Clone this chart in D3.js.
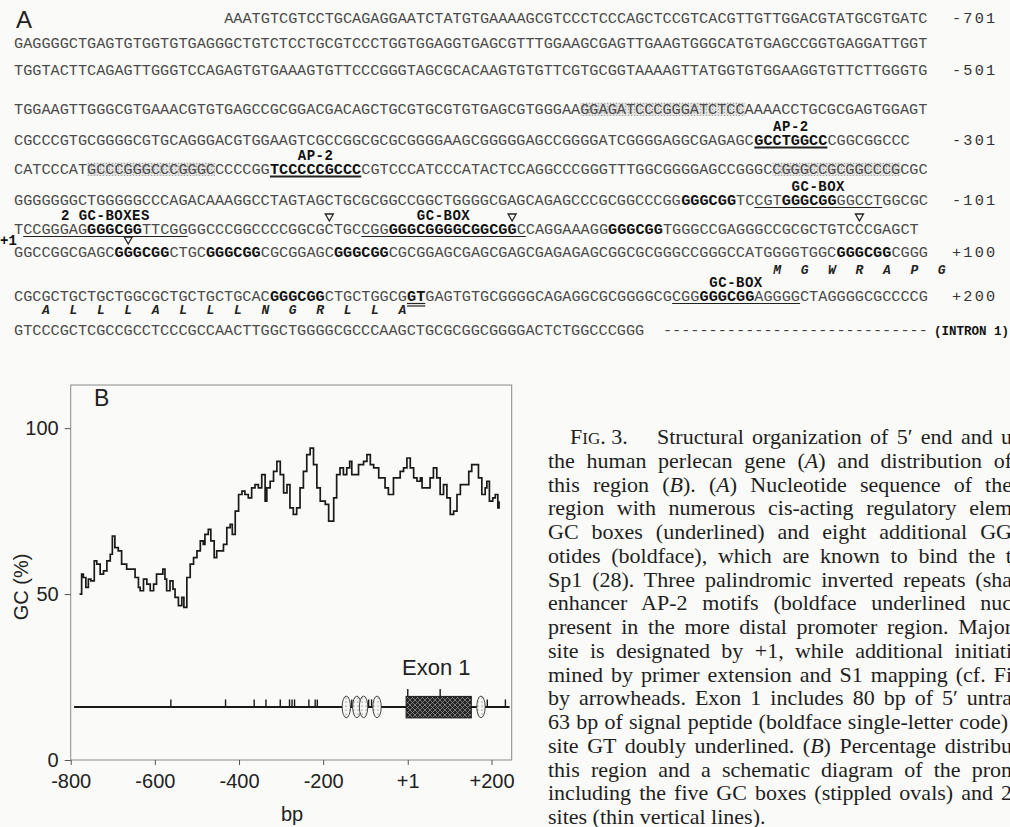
<!DOCTYPE html>
<html>
<head>
<meta charset="utf-8">
<script src="https://cdn.jsdelivr.net/npm/d3@7"></script>
<style>
  body { margin: 0; background: #fafaf8; }
  svg { display: block; }
</style>
</head>
<body>
<script>
let w = 1010;
let h = 827;

// panel A sequence. markup: * bold, _ underline, = double underline, # shaded repeat
let seqLines = [
  'AAATGTCGTCCTGCAGAGGAATCTATGTGAAAAGCGTCCCTCCCAGCTCCGTCACGTTGTTGGACGTATGCGTGATC',
  'GAGGGGCTGAGTGTGGTGTGAGGGCTGTCTCCTGCGTCCCTGGTGGAGGTGAGCGTTTGGAAGCGAGTTGAAGTGGGCATGTGAGCCGGTGAGGATTGGT',
  'TGGTACTTCAGAGTTGGGTCCAGAGTGTGAAAGTGTTCCCGGGTAGCGCACAAGTGTGTTCGTGCGGTAAAAGTTATGGTGTGGAAGGTGTTCTTGGGTG',
  'TGGAAGTTGGGCGTGAAACGTGTGAGCCGCGGACGACAGCTGCGTGCGTGTGAGCGTGGGAA#GGAGATCCCGGGATCTCC#AAAACCTGCGCGAGTGGAGT',
  'CGCCCGTGCGGGGCGTGCAGGGACGTGGAAGTCGCCGGCGCGCGGGGAAGCGGGGGAGCCGGGGATCGGGGAGGCGAGAGC_*GCCTGGCC*_CGGCGGCCC',
  'CATCCCAT#GCCCGGGCCCGGGC#CCCCGG_*TCCCCCGCCC*_CGTCCCATCCCATACTCCAGGCCCGGGTTTGGCGGGGAGCCGGGC#CGGGCCGCGGCCCG#CGC',
  'GGGGGGGCTGGGGGCCCAGACAAAGGCCTAGTAGCTGCGCGGCCGGCTGGGGCGAGCAGAGCCCGCGGCCCGG*GGGCGG*TC_CGT*GGGCGG*GGCCT_GGCGC',
  'T_CCGGGAG*GGGCGG*TTCGG_GGCCCGGCCCCGGCGCTGC_CGG*GGGCGGGGCGGCGG*C_CAGGAAAGG*GGGCGG*TGGGCCGAGGGCCGCGCTGTCCCGAGCT',
  'GGCCGGCGAGC*GGGCGG*CTGC*GGGCGG*CGCGGAGC*GGGCGG*CGCGGAGCGAGCGAGCGAGAGAGCGGCGCGGGCCGGGCCATGGGGTGGC*GGGCGG*CGGG',
  'CGCGCTGCTGCTGGCGCTGCTGCTGCAC*GGGCGG*CTGCTGGCG=*GT*=GAGTGTGCGGGGCAGAGGCGCGGGGCG_CGG*GGGCGG*AGGGG_CTAGGGGCGCCCCG',
  'GTCCCGCTCGCCGCCTCCCGCCAACTTGGCTGGGGCGCCCAAGCTGCGCGGCGGGGACTCTGGCCCGGG'
];
let seqNumbers = ['-701', '', '-501', '', '-301', '', '-101', '', '+100', '+200', ''];
// [line, underline span on that line, label]
let motifLabels = [[4, 0, 'AP-2'], [5, 0, 'AP-2'], [6, 0, 'GC-BOX'], [7, 0, '2 GC-BOXES'], [7, 1, 'GC-BOX'], [9, 0, 'GC-BOX']];
// [line below arrow, base position in line]
let startSites = [[7, 34], [7, 54], [7, 92], [8, 12]];
// [line above, first base, residues]
let peptide = [[8, 83, 'MGWRAPG'], [9, 3, 'ALLLALLLNGRLLA']];

// panel B: GC distribution
let gcPos = [-779, -774, -770, -764, -758, -752, -744, -738, -730, -722,
  -714, -706, -701, -695, -687, -679, -667, -655, -647, -639,
  -635, -627, -619, -611, -603, -596, -588, -581, -576, -572,
  -564, -557, -552, -544, -536, -531, -524, -516, -508, -500,
  -492, -485, -481, -473, -467, -459, -453, -445, -437, -429,
  -421, -416, -409, -401, -393, -386, -378, -370, -362, -354,
  -346, -338, -334, -326, -318, -310, -302, -294, -286, -279,
  -271, -263, -255, -247, -239, -231, -223, -215, -207, -195,
  -187, -181, -175, -168, -160, -152, -144, -137, -132, -124,
  -116, -104, -96, -88, -80, -68, -61, -53, -45, -37,
  -33, -25, -17, -9, -1, 7, 15, 23, 31, 35,
  46, 54, 62, 70, 78, 86, 94, 102, 110, 118,
  126, 138, 146, 153, 161, 169, 177, 185, 189, 195,
  203, 209, 215, 218];
let gcVal = [50, 56, 55, 52, 54.5, 54, 60, 59, 56, 57,
  60, 62, 67.5, 64, 63, 59, 57.5, 57.5, 55, 52,
  51, 54.5, 53, 51, 53, 56, 56, 57.5, 54.5, 51,
  54, 51.5, 49, 46.5, 49, 46, 55, 59, 61, 63,
  66, 65, 68, 69.5, 66, 61, 63, 63, 65, 70,
  71, 68, 75, 80, 81, 80, 79, 82, 83, 82,
  86, 78, 82, 84, 87, 90, 86, 80.5, 83, 76,
  74, 76, 82, 87, 92, 94, 89, 82, 78, 77,
  72, 72, 79, 86, 88, 86, 88, 90, 86, 86,
  89, 90, 92, 89, 88, 85, 85, 82, 80, 80,
  85, 85, 87, 88, 91, 88, 85, 84, 85, 82,
  82, 85, 88, 85, 80, 83, 79, 74, 75, 80,
  83, 83, 87, 89, 89, 85, 80, 82, 84, 78,
  79, 80, 76, 78];
let xTicks = [-800, -600, -400, -200, 1, 200];
let yTicks = [0, 50, 100];

// promoter schematic (bp)
let trackRange = [-792, 243];
let trackLevel = 16;
let siteTicks = [-562, -432, -364, -336, -302, -280, -274, -268, -234, -219, -214, -132, -92, -85, 190, 233];
let gcBoxes = [-145, -120, -104, -72, 175];
let exon = [-3, 152];
let exonTicks = [1, 78];

let caption = [
  'Structural organization of 5\u2032 end and u',
  'the human perlecan gene (|A|) and distribution of',
  'this region (|B|). (|A|) Nucleotide sequence of the',
  'region with numerous cis-acting regulatory elem',
  'GC boxes (underlined) and eight additional GG',
  'otides (boldface), which are known to bind the t',
  'Sp1 (28). Three palindromic inverted repeats (sha',
  'enhancer AP-2 motifs (boldface underlined nuc',
  'present in the more distal promoter region. Major',
  'site is designated by +1, while additional initiati',
  'mined by primer extension and S1 mapping (cf. Fi',
  'by arrowheads. Exon 1 includes 80 bp of 5\u2032 untra',
  '63 bp of signal peptide (boldface single-letter code)',
  'site GT doubly underlined. (|B|) Percentage distribu',
  'this region and a schematic diagram of the pron',
  'including the five GC boxes (stippled ovals) and 2',
  'sites (thin vertical lines).'
];

let mono = "'Liberation Mono', 'Courier New', monospace";
let sans = "'Liberation Sans', Arial, sans-serif";
let serif = "'Liberation Serif', 'Times New Roman', serif";

let lineY = [23, 47.5, 74.5, 113.5, 144.5, 173.5, 204.5, 233.5, 256.5, 300.5, 335];
let pepDy = [17, 13.5];

let svg = d3.select('body')
  .append('svg')
  .attr('width', w)
  .attr('height', h);

svg.append('rect')
  .attr('width', w)
  .attr('height', h)
  .attr('fill', '#fafaf8');

let defs = svg.append('defs');

let stip = defs.append('pattern')
  .attr('id', 'stipple')
  .attr('width', 3)
  .attr('height', 3)
  .attr('patternUnits', 'userSpaceOnUse');
stip.append('rect').attr('width', 3).attr('height', 3).attr('fill', '#e4e4e2');
stip.append('circle').attr('cx', 1.5).attr('cy', 1.5).attr('r', 0.7).attr('fill', '#a8a8a8');

let dots = defs.append('pattern')
  .attr('id', 'dots')
  .attr('width', 4)
  .attr('height', 4)
  .attr('patternUnits', 'userSpaceOnUse');
dots.append('rect').attr('width', 4).attr('height', 4).attr('fill', '#f6f6f4');
dots.append('circle').attr('cx', 2).attr('cy', 2).attr('r', 0.6).attr('fill', '#555');

let hatch = defs.append('pattern')
  .attr('id', 'hatch')
  .attr('width', 5)
  .attr('height', 5)
  .attr('patternUnits', 'userSpaceOnUse');
hatch.append('rect').attr('width', 5).attr('height', 5).attr('fill', '#262626');
hatch.append('path').attr('d', 'M0,0 L5,5 M5,0 L0,5').attr('stroke', '#9a9a9a').attr('stroke-width', 0.7);

// ---------- panel A ----------
let cellX = d3.scaleLinear().domain([0, 100]).range([14, 928]);
let cw = cellX(1) - cellX(0);
let monoSize = cw / 0.6;

function parseLine(s) {
  let out = [];
  let st = { b: false, u: false, d: false, s: false };
  for (let c of s) {
    if (c === '*') st.b = !st.b;
    else if (c === '_') st.u = !st.u;
    else if (c === '=') st.d = !st.d;
    else if (c === '#') st.s = !st.s;
    else out.push({ c: c, b: st.b, u: st.u, d: st.d, s: st.s });
  }
  return out;
}

function runs(chars, test) {
  let r = [];
  chars.forEach((d, i) => {
    if (!test(d)) return;
    let last = r[r.length - 1];
    if (last && last[1] === i) last[1] = i + 1;
    else r.push([i, i + 1]);
  });
  return r;
}

let parsed = seqLines.map((s, i) => {
  let chars = parseLine(s);
  let off = i === 0 ? 100 - chars.length : 0;
  return { chars: chars, off: off, y: lineY[i] };
});

let gA = svg.append('g');

gA.append('text')
  .attr('x', 16)
  .attr('y', 28)
  .attr('font-family', sans)
  .attr('font-size', '24px')
  .attr('fill', '#222')
  .text('A');

parsed.forEach((line, li) => {
  // shading first
  runs(line.chars, (d) => d.s).forEach((r) => {
    gA.append('rect')
      .attr('x', cellX(line.off + r[0]))
      .attr('y', line.y - 11)
      .attr('width', (r[1] - r[0]) * cw)
      .attr('height', 13.5)
      .attr('fill', 'url(#stipple)');
  });

  let t = gA.append('text')
    .attr('y', line.y)
    .attr('font-family', mono)
    .attr('font-size', monoSize + 'px');

  let bold = runs(line.chars, (d) => d.b);
  let plain = runs(line.chars, (d) => !d.b);
  bold.map((r) => [r, true]).concat(plain.map((r) => [r, false]))
    .forEach((p) => {
      let r = p[0];
      t.append('tspan')
        .attr('x', cellX(line.off + r[0]))
        .attr('font-weight', p[1] ? 'bold' : 'normal')
        .attr('fill', p[1] ? '#111' : '#4a4a4a')
        .text(line.chars.slice(r[0], r[1]).map((d) => d.c).join(''));
    });

  let ul = runs(line.chars, (d) => d.u);
  line.ul = ul;
  ul.forEach((r) => {
    let allBold = line.chars.slice(r[0], r[1]).every((d) => d.b);
    gA.append('line')
      .attr('x1', cellX(line.off + r[0]))
      .attr('x2', cellX(line.off + r[1]))
      .attr('y1', line.y + 3)
      .attr('y2', line.y + 3)
      .attr('stroke', '#222')
      .attr('stroke-width', allBold ? 2 : 1.2);
  });

  runs(line.chars, (d) => d.d).forEach((r) => {
    [3, 5.5].forEach((dy) => {
      gA.append('line')
        .attr('x1', cellX(line.off + r[0]))
        .attr('x2', cellX(line.off + r[1]))
        .attr('y1', line.y + dy)
        .attr('y2', line.y + dy)
        .attr('stroke', '#222')
        .attr('stroke-width', 1.2);
    });
  });

  if (seqNumbers[li]) {
    gA.append('text')
      .attr('x', 952)
      .attr('y', line.y)
      .attr('font-family', mono)
      .attr('font-size', monoSize + 'px')
      .attr('letter-spacing', '2.2px')
      .attr('fill', '#333')
      .text(seqNumbers[li]);
  }
});

// intron continuation on the last line
let lastLine = parsed[parsed.length - 1];
gA.append('text')
  .attr('x', cellX(lastLine.chars.length + 2))
  .attr('y', lastLine.y)
  .attr('font-family', mono)
  .attr('font-size', monoSize + 'px')
  .attr('fill', '#444')
  .text('-'.repeat(100 - lastLine.chars.length - 2));

gA.append('text')
  .attr('x', 934)
  .attr('y', lastLine.y)
  .attr('font-family', mono)
  .attr('font-weight', 'bold')
  .attr('font-size', '12.5px')
  .attr('fill', '#111')
  .text('(INTRON 1)');

motifLabels.forEach((m) => {
  let line = parsed[m[0]];
  let r = line.ul[m[1]];
  gA.append('text')
    .attr('x', cellX(line.off + (r[0] + r[1]) / 2))
    .attr('y', line.y - 13.5)
    .attr('text-anchor', 'middle')
    .attr('font-family', mono)
    .attr('font-weight', 'bold')
    .attr('font-size', '14px')
    .attr('letter-spacing', '0.5px')
    .attr('fill', '#111')
    .text(m[2]);
});

startSites.forEach((s) => {
  let cx = cellX(s[1] + 0.5);
  let cy = parsed[s[0]].y - 16;
  gA.append('path')
    .attr('d', 'M' + (cx - 4) + ',' + (cy - 3.5) + 'L' + (cx + 4) + ',' + (cy - 3.5) + 'L' + cx + ',' + (cy + 3.5) + 'Z')
    .attr('fill', 'none')
    .attr('stroke', '#222')
    .attr('stroke-width', 1.3);
});

gA.append('text')
  .attr('x', 0)
  .attr('y', parsed[8].y - 12)
  .attr('font-family', mono)
  .attr('font-weight', 'bold')
  .attr('font-size', '14px')
  .attr('fill', '#111')
  .text('+1');

peptide.forEach((p, k) => {
  let line = parsed[p[0]];
  p[2].split('').forEach((aa, j) => {
    gA.append('text')
      .attr('x', cellX(p[1] + j * 3 + 0.5))
      .attr('y', line.y + pepDy[k])
      .attr('text-anchor', 'middle')
      .attr('font-family', mono)
      .attr('font-weight', 'bold')
      .attr('font-style', 'italic')
      .attr('font-size', '13px')
      .attr('fill', '#222')
      .text(aa);
  });
});

// ---------- panel B ----------
let xScale = d3.scaleLinear()
  .domain([-800, 248])
  .range([70.7, 511.7]);

let yScale = d3.scaleLinear()
  .domain([0, 113])
  .range([760, 385]);

let gB = svg.append('g');

gB.append('rect')
  .attr('x', xScale.range()[0])
  .attr('y', yScale.range()[1])
  .attr('width', xScale.range()[1] - xScale.range()[0])
  .attr('height', yScale.range()[0] - yScale.range()[1])
  .attr('fill', 'none')
  .attr('stroke', '#8a8a8a')
  .attr('stroke-width', 1);

let xAxis = d3.axisBottom()
  .scale(xScale)
  .tickValues(xTicks)
  .tickFormat((d) => { return d > 0 ? '+' + d : d; })
  .tickSize(5)
  .tickPadding(9);

let yAxis = d3.axisLeft()
  .scale(yScale)
  .tickValues(yTicks)
  .tickSize(6)
  .tickPadding(6);

let gx = gB.append('g')
  .attr('transform', 'translate(0, ' + yScale.range()[0] + ')')
  .call(xAxis);

let gy = gB.append('g')
  .attr('transform', 'translate(' + xScale.range()[0] + ', 0)')
  .call(yAxis);

[gx, gy].forEach((g) => {
  g.select('.domain').remove();
  g.selectAll('line').attr('stroke', '#555');
  g.selectAll('text')
    .attr('font-family', sans)
    .attr('font-size', '20px')
    .attr('fill', '#222');
});

gB.append('text')
  .attr('transform', 'translate(28, 587) rotate(-90)')
  .attr('text-anchor', 'middle')
  .attr('font-family', sans)
  .attr('font-size', '20px')
  .attr('fill', '#222')
  .text('GC (%)');

gB.append('text')
  .attr('x', 292)
  .attr('y', 821)
  .attr('text-anchor', 'middle')
  .attr('font-family', sans)
  .attr('font-size', '20px')
  .attr('fill', '#222')
  .text('bp');

gB.append('text')
  .attr('x', 94)
  .attr('y', 406)
  .attr('font-family', sans)
  .attr('font-size', '23px')
  .attr('fill', '#222')
  .text('B');

let gcLine = d3.line()
  .x((d) => { return xScale(d[0]); })
  .y((d) => { return yScale(d[1]); })
  .curve(d3.curveStepAfter);

gB.append('path')
  .datum(d3.zip(gcPos, gcVal))
  .attr('d', gcLine)
  .attr('fill', 'none')
  .attr('stroke', '#1a1a1a')
  .attr('stroke-width', 1.7);

// schematic of promoter
let trackY = yScale(trackLevel);

gB.append('line')
  .attr('x1', xScale(trackRange[0]))
  .attr('x2', xScale(trackRange[1]))
  .attr('y1', trackY)
  .attr('y2', trackY)
  .attr('stroke', '#1a1a1a')
  .attr('stroke-width', 2);

gB.selectAll('.site')
  .data(siteTicks)
  .enter()
  .append('line')
  .attr('class', 'site')
  .attr('x1', (d) => { return xScale(d); })
  .attr('x2', (d) => { return xScale(d); })
  .attr('y1', trackY)
  .attr('y2', trackY - 7.5)
  .attr('stroke', '#1a1a1a')
  .attr('stroke-width', 1.4);

gB.append('rect')
  .attr('x', xScale(exon[0]))
  .attr('y', trackY - 10.5)
  .attr('width', xScale(exon[1]) - xScale(exon[0]))
  .attr('height', 21.5)
  .attr('fill', 'url(#hatch)')
  .attr('stroke', '#1a1a1a')
  .attr('stroke-width', 1);

gB.selectAll('.exontick')
  .data(exonTicks)
  .enter()
  .append('line')
  .attr('class', 'exontick')
  .attr('x1', (d) => { return xScale(d); })
  .attr('x2', (d) => { return xScale(d); })
  .attr('y1', trackY - 10.5)
  .attr('y2', trackY - 18)
  .attr('stroke', '#1a1a1a')
  .attr('stroke-width', 1.4);

gB.selectAll('ellipse')
  .data(gcBoxes)
  .enter()
  .append('ellipse')
  .attr('cx', (d) => { return xScale(d); })
  .attr('cy', trackY)
  .attr('rx', 4.2)
  .attr('ry', 10.8)
  .attr('fill', 'url(#dots)')
  .attr('stroke', '#333')
  .attr('stroke-width', 0.9);

gB.append('text')
  .attr('x', 402)
  .attr('y', 675)
  .attr('font-family', sans)
  .attr('font-size', '22px')
  .attr('fill', '#222')
  .text('Exon 1');

// ---------- legend caption ----------
let gC = svg.append('g')
  .attr('font-family', serif)
  .attr('font-size', '22px')
  .attr('fill', '#1e1e1e');

let fig = gC.append('text')
  .attr('x', 570)
  .attr('y', 444);
fig.append('tspan').text('F');
fig.append('tspan').attr('font-size', '17px').text('IG');
fig.append('tspan').text('. 3.');

caption.forEach((c, i) => {
  let x = i === 0 ? 657 : 548;
  let t = gC.append('text')
    .attr('x', x)
    .attr('y', 444 + i * 23.75);
  c.split('|').forEach((part, k) => {
    t.append('tspan')
      .attr('font-style', k % 2 ? 'italic' : 'normal')
      .text(part);
  });
  if (i < caption.length - 1) {
    let target = (i === 12 ? 1008 : 1012) - x;
    let natural = t.node().getComputedTextLength();
    let spaces = c.split(' ').length - 1;
    if (spaces > 0) t.attr('word-spacing', ((target - natural) / spaces) + 'px');
  }
});
</script>
</body>
</html>
